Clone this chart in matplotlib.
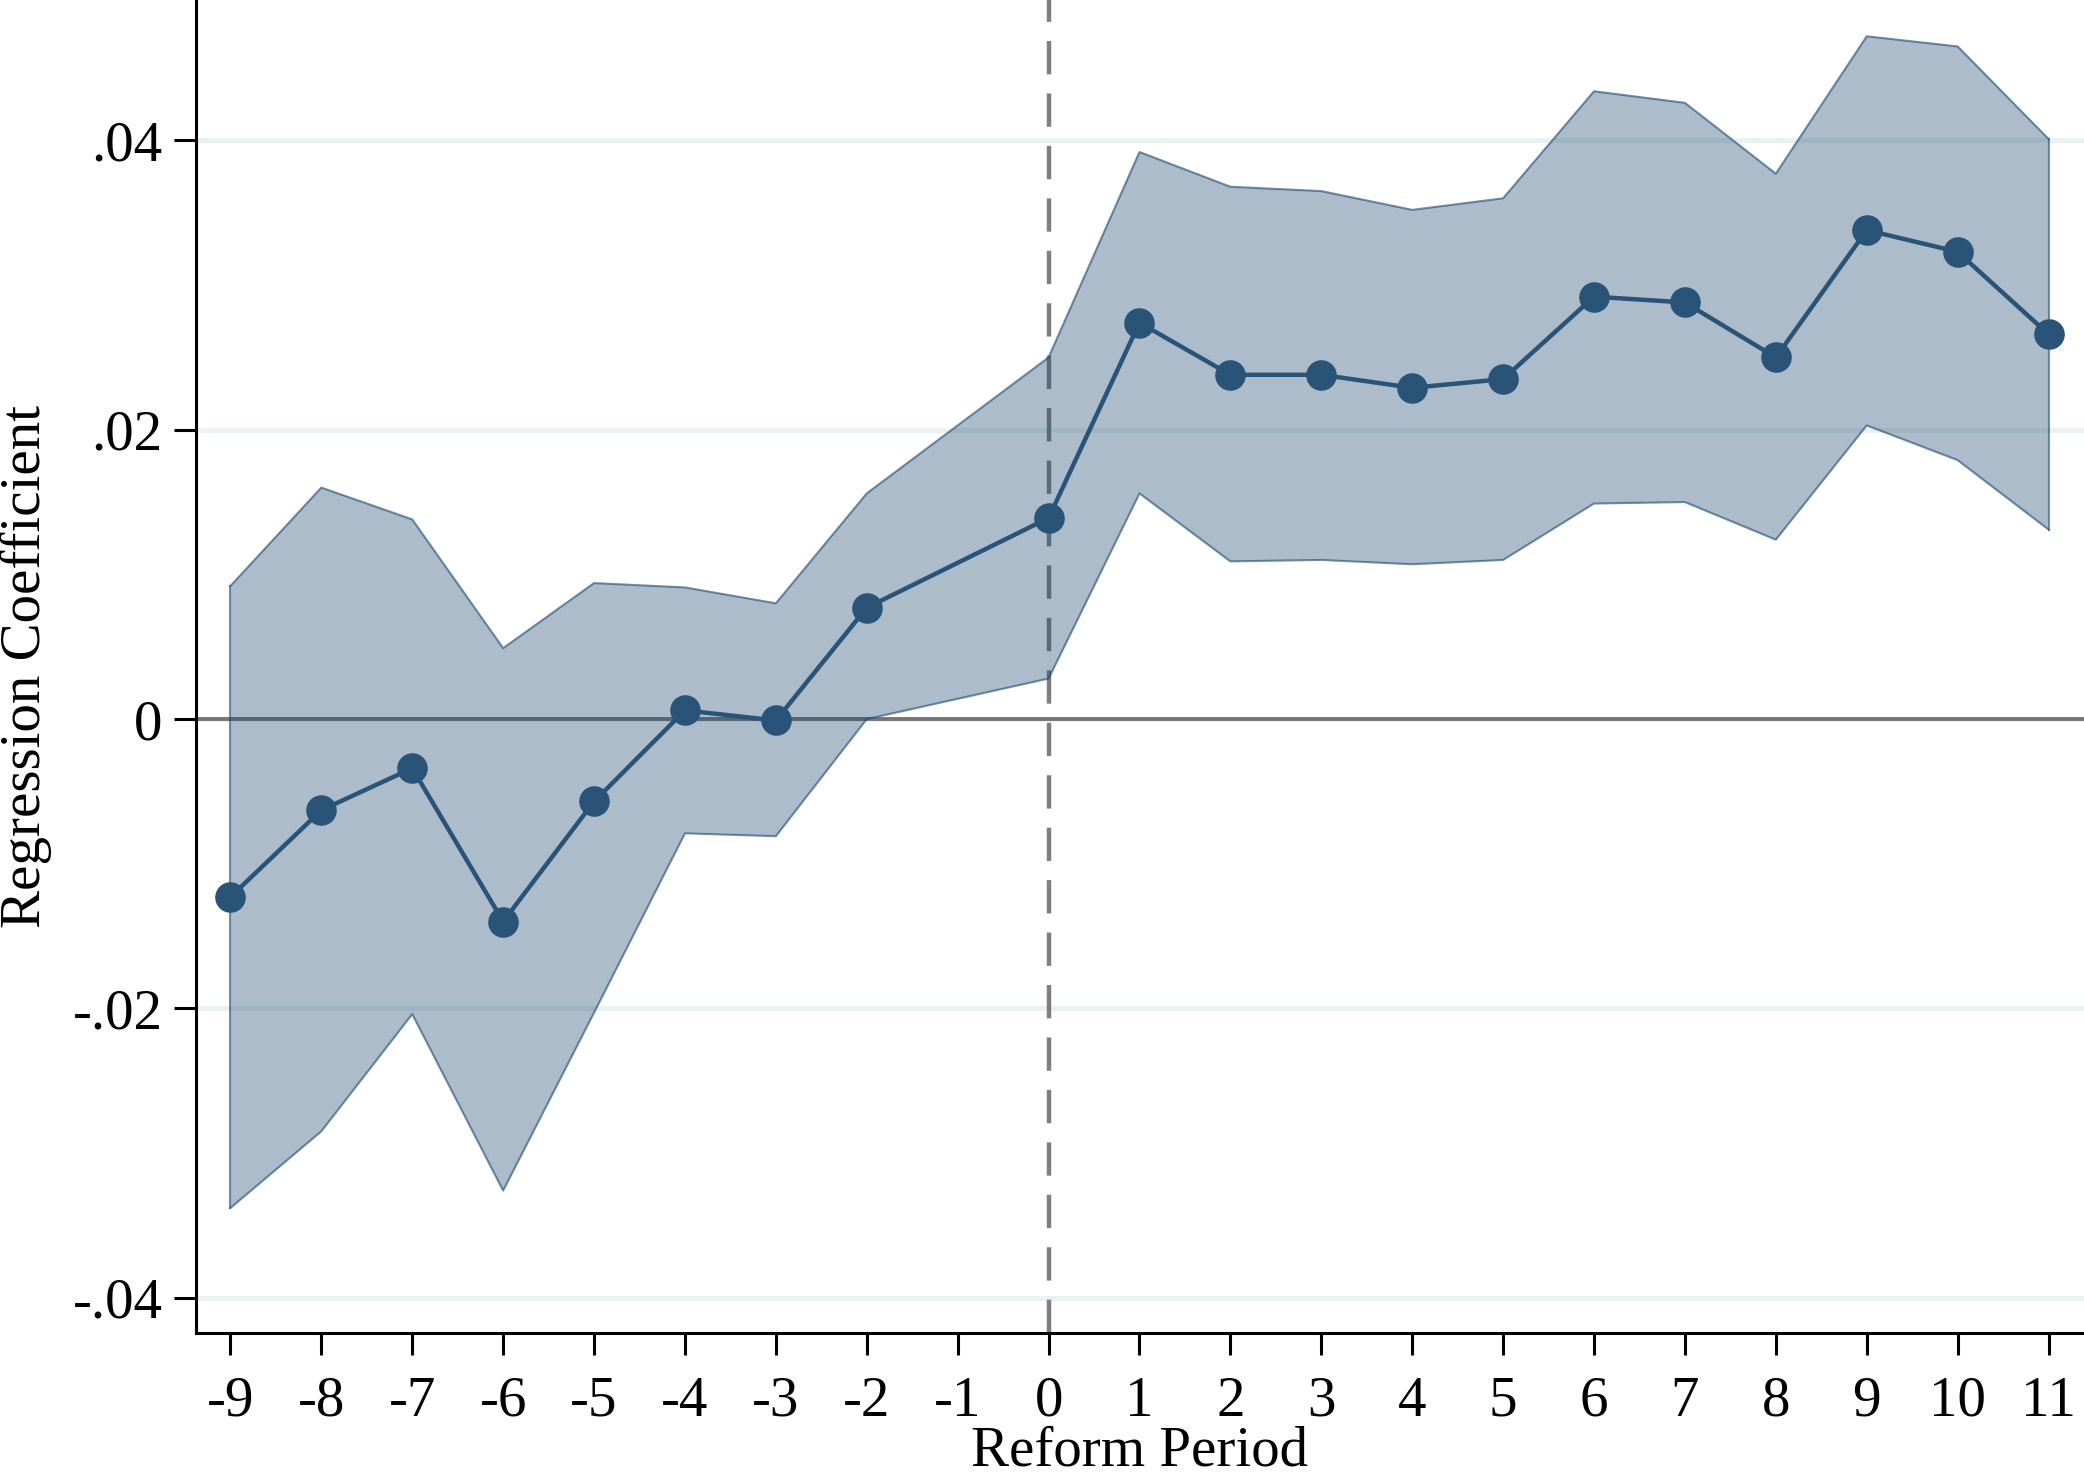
import numpy as np
import matplotlib
matplotlib.use("Agg")
import matplotlib.pyplot as plt

# event-study estimates (period -1 is the omitted reference period)
periods = [-9, -8, -7, -6, -5, -4, -3, -2, 0, 1, 2, 3, 4, 5, 6, 7, 8, 9, 10, 11]
coef = [-0.0123, -0.0063, -0.0034, -0.0140, -0.0057, 0.0006, -0.0001, 0.0077,
        0.0139, 0.0274, 0.0238, 0.0238, 0.0229, 0.0235, 0.0292, 0.0288, 0.0250,
        0.0338, 0.0323, 0.0266]
ci_upper = [0.0092, 0.0160, 0.0138, 0.0049, 0.0094, 0.0091, 0.0080, 0.0156,
            0.0250, 0.0392, 0.0368, 0.0365, 0.0352, 0.0360, 0.0434, 0.0426, 0.0377,
            0.0472, 0.0465, 0.0401]
ci_lower = [-0.0338, -0.0285, -0.0204, -0.0326, -0.0203, -0.0079, -0.0081, 0.0000,
            0.0028, 0.0156, 0.0109, 0.0110, 0.0107, 0.0110, 0.0149, 0.0150, 0.0124,
            0.0203, 0.0179, 0.0131]

xticks = list(range(-9, 12))
yticks = [-0.04, -0.02, 0, 0.02, 0.04]
ytick_labels = ["-.04", "-.02", "0", ".02", ".04"]

navy = "#1A476F"
plt.rcParams["font.family"] = ["Liberation Serif", "DejaVu Serif"]

fig = plt.figure(figsize=(20.84, 14.74), dpi=100)
ax = fig.add_axes([0.094, 0.0957, 0.906, 0.9043])

# grid + reference lines first, the translucent band goes over them
for yv in yticks:
    ax.axhline(yv, color="#EAF2F3", lw=3.6, zorder=0)
ax.axhline(0, color="#767676", lw=2.8, zorder=1)
ax.axvline(0, color="#7F7F7F", lw=3.2, dashes=(7.5, 4.3), zorder=1)

ax.fill_between(periods, ci_lower, ci_upper, facecolor=navy, alpha=0.36,
                edgecolor="none", zorder=2)
ax.plot(periods, ci_upper, color=navy, alpha=0.6, lw=1.5, zorder=2)
ax.plot(periods, ci_lower, color=navy, alpha=0.6, lw=1.5, zorder=2)
ax.plot([periods[0], periods[0]], [ci_lower[0], ci_upper[0]], color=navy, alpha=0.6, lw=1.5, zorder=2)
ax.plot([periods[-1], periods[-1]], [ci_lower[-1], ci_upper[-1]], color=navy, alpha=0.6, lw=1.5, zorder=2)

ax.plot(periods, coef, color="#2A5378", lw=3.2, marker="o", markersize=21,
        markerfacecolor="#2A5378", markeredgecolor="#2A5378", zorder=3, clip_on=False)

ax.set_xlim(-9.38, 11.39)
ax.set_ylim(-0.04244, 0.04971)
ax.set_xticks(xticks)
ax.set_xticklabels([str(v) for v in xticks])
ax.set_yticks(yticks)
ax.set_yticklabels(ytick_labels)

for s in ["top", "right"]:
    ax.spines[s].set_visible(False)
for s in ["left", "bottom"]:
    ax.spines[s].set_linewidth(2.2)
    ax.spines[s].set_color("black")

ax.tick_params(axis="both", length=16, width=2.2, labelsize=41, colors="black")
ax.tick_params(axis="x", pad=15)
ax.tick_params(axis="y", pad=8)

ax.set_xlabel("Reform Period", fontsize=41, labelpad=-2)
ax.set_ylabel("Regression Coefficient", fontsize=41, labelpad=15)

fig.savefig("out.png", dpi=100, facecolor="white")
